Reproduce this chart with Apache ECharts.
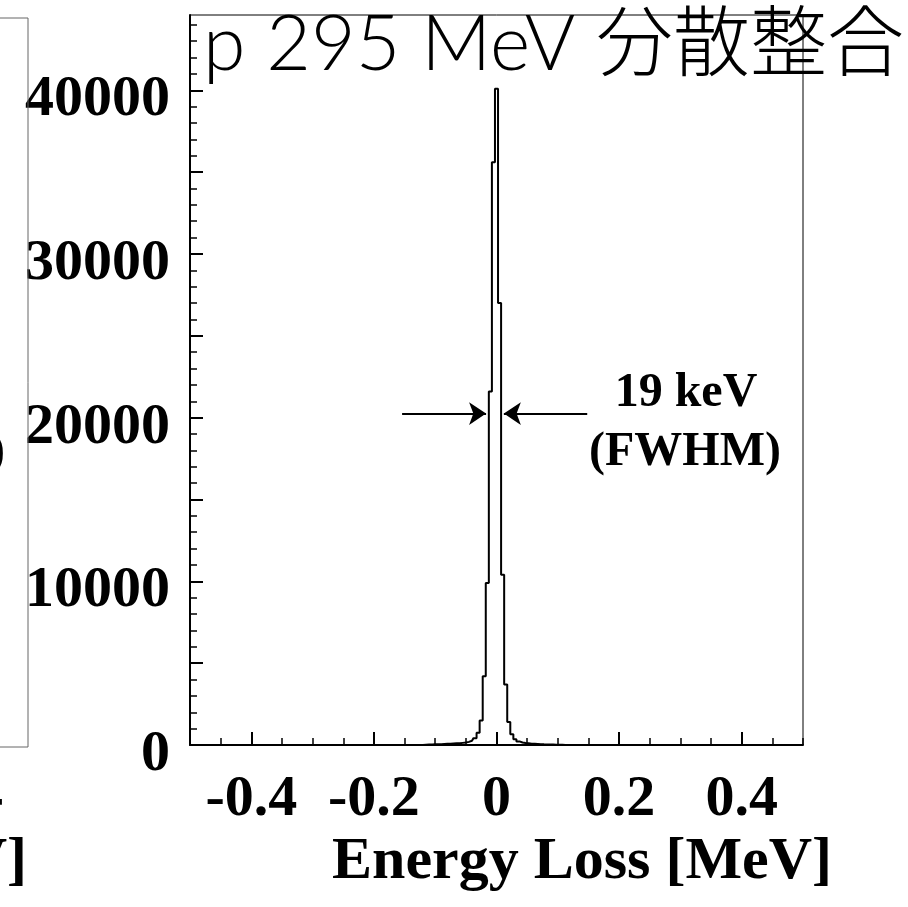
<!DOCTYPE html>
<html><head><meta charset="utf-8">
<script src="https://cdn.jsdelivr.net/npm/echarts@6/dist/echarts.min.js"></script>
<style>html,body{margin:0;padding:0;background:#fff}#c{width:908px;height:907px}</style>
</head><body><div id="c"></div>
<script>
// ---- data ----
const binCenters = [-0.120,-0.115,-0.110,-0.105,-0.100,-0.095,-0.090,-0.085,-0.080,-0.075,-0.070,-0.065,-0.060,-0.055,-0.050,-0.045,-0.040,-0.035,-0.030,-0.025,-0.020,-0.015,-0.010,-0.005,0.000,0.005,0.010,0.015,0.020,0.025,0.030,0.035,0.040,0.045,0.050,0.055,0.060,0.065,0.070,0.075,0.080,0.085,0.090,0.095,0.100,0.105,0.110,0.115];
const counts     = [0,20,30,30,40,40,50,60,70,80,90,100,110,130,150,190,260,420,750,1500,4200,9900,21600,35600,40100,27000,10400,3700,1400,650,350,220,150,120,100,80,70,60,50,40,35,30,25,20,15,10,5,0];
const xRange = [-0.5, 0.5];
const yRange = [0, 44600];
const xMajorTicks = [-0.4,-0.2,0,0.2,0.4];
const xMinorTicks = [-0.5,-0.45,-0.4,-0.35,-0.3,-0.25,-0.2,-0.15,-0.1,-0.05,0,0.05,0.1,0.15,0.2,0.25,0.3,0.35,0.4,0.45,0.5];
const yLabelValues = [0,10000,20000,30000,40000];
const yMajorTicks = [0,5000,10000,15000,20000,25000,30000,35000,40000];
const yMinorTicks = [0,1000,2000,3000,4000,5000,6000,7000,8000,9000,10000,11000,12000,13000,14000,15000,16000,17000,18000,19000,20000,21000,22000,23000,24000,25000,26000,27000,28000,29000,30000,31000,32000,33000,34000,35000,36000,37000,38000,39000,40000,41000,42000,43000,44000];
const fwhmY = 20250;
const fwhmLeftArrow = [-0.154, -0.017];
const fwhmRightArrow = [0.148, 0.012];
const titleText = 'p 295 MeV 分散整合';
const xTitle = 'Energy Loss [MeV]';
const fwhmLines = ['19 keV', '(FWHM)'];

const serif = '"Liberation Serif", "Times New Roman", serif';
const chart = echarts.init(document.getElementById('c'), null, {renderer: 'canvas'});
const fmtX = v => (v === 0 ? '0' : v.toFixed(1));
const fmtY = v => String(v);

chart.setOption({
  animation: false,
  backgroundColor: '#fff',
  grid: [
    {left: 190, top: 15, width: 613, height: 730, show: true, borderColor: '#000', borderWidth: 1, containLabel: false}
  ],
  xAxis: [
    {gridIndex: 0, type: 'value', min: xRange[0], max: xRange[1], position: 'bottom',
     axisLine: {show: true, onZero: false, lineStyle: {color: '#000', width: 2}},
     axisTick: {show: true, inside: true, length: 13, customValues: xMajorTicks, lineStyle: {color: '#000', width: 2}},
     axisLabel: {show: true, customValues: xMajorTicks, formatter: fmtX, margin: 26,
                 fontFamily: serif, fontWeight: 'bold', fontSize: 58, color: '#000'},
     splitLine: {show: false}},
    {gridIndex: 0, type: 'value', min: xRange[0], max: xRange[1], position: 'bottom',
     axisLine: {show: false, onZero: false},
     axisTick: {show: true, inside: true, length: 7, customValues: xMinorTicks, lineStyle: {color: '#000', width: 1.5}},
     axisLabel: {show: false}, splitLine: {show: false}}
  ],
  yAxis: [
    {gridIndex: 0, type: 'value', min: yRange[0], max: yRange[1], position: 'left',
     axisLine: {show: true, onZero: false, lineStyle: {color: '#000', width: 2}},
     axisTick: {show: true, inside: true, length: 13, customValues: yMajorTicks, lineStyle: {color: '#000', width: 2}},
     axisLabel: {show: true, customValues: yLabelValues, formatter: fmtY, margin: 20,
                 verticalAlign: 'top', lineHeight: 20,
                 fontFamily: serif, fontWeight: 'bold', fontSize: 58, color: '#000'},
     splitLine: {show: false}},
    {gridIndex: 0, type: 'value', min: yRange[0], max: yRange[1], position: 'left',
     axisLine: {show: false, onZero: false},
     axisTick: {show: true, inside: true, length: 7, customValues: yMinorTicks, lineStyle: {color: '#000', width: 1.5}},
     axisLabel: {show: false}, splitLine: {show: false}}
  ],
  series: [{
    type: 'line', xAxisIndex: 0, yAxisIndex: 0, step: 'middle', symbol: 'none', silent: true,
    data: binCenters.map((x, i) => [x, counts[i]]),
    lineStyle: {color: '#000', width: 2}, z: 5,
    markLine: {
      silent: true, symbol: ['none', 'arrow'], symbolSize: 17,
      lineStyle: {color: '#000', width: 2, type: 'solid'}, label: {show: false},
      data: [
        [{coord: [fwhmLeftArrow[0], fwhmY]}, {coord: [fwhmLeftArrow[1], fwhmY]}],
        [{coord: [fwhmRightArrow[0], fwhmY]}, {coord: [fwhmRightArrow[1], fwhmY]}]
      ]
    }
  }],
  graphic: [
    {type: 'text', left: 203, top: 7, z: 10, style: {text: titleText, font: '300 77px Lato, "Noto Sans CJK JP", sans-serif', fill: '#000'}},
    {type: 'text', x: 686, y: 394, z: 10, style: {text: fwhmLines[0], font: 'bold 48px ' + serif, fill: '#000', align: 'center', verticalAlign: 'middle'}},
    {type: 'text', x: 685, y: 453, z: 10, style: {text: fwhmLines[1], font: 'bold 48px ' + serif, fill: '#000', align: 'center', verticalAlign: 'middle'}},
    {type: 'text', x: 582, y: 862, z: 10, style: {text: xTitle, font: 'bold 60px ' + serif, fill: '#000', align: 'center', verticalAlign: 'middle'}},
    // clipped neighbouring panel (left)
    {type: 'polyline', z: 2, shape: {points: [[0, 18], [28, 18], [28, 747], [0, 747]]}, style: {stroke: '#666', lineWidth: 1, fill: null}},
    {type: 'text', x: 27, y: 862, z: 10, style: {text: xTitle, font: 'bold 60px ' + serif, fill: '#000', align: 'right', verticalAlign: 'middle'}},
    {type: 'text', x: 5, y: 453, z: 10, style: {text: fwhmLines[1], font: 'bold 48px ' + serif, fill: '#000', align: 'right', verticalAlign: 'middle'}},
    {type: 'text', x: 3, y: 797, z: 10, style: {text: '0.4', font: 'bold 58px ' + serif, fill: '#000', align: 'right', verticalAlign: 'middle'}}
  ]
});
</script></body></html>
